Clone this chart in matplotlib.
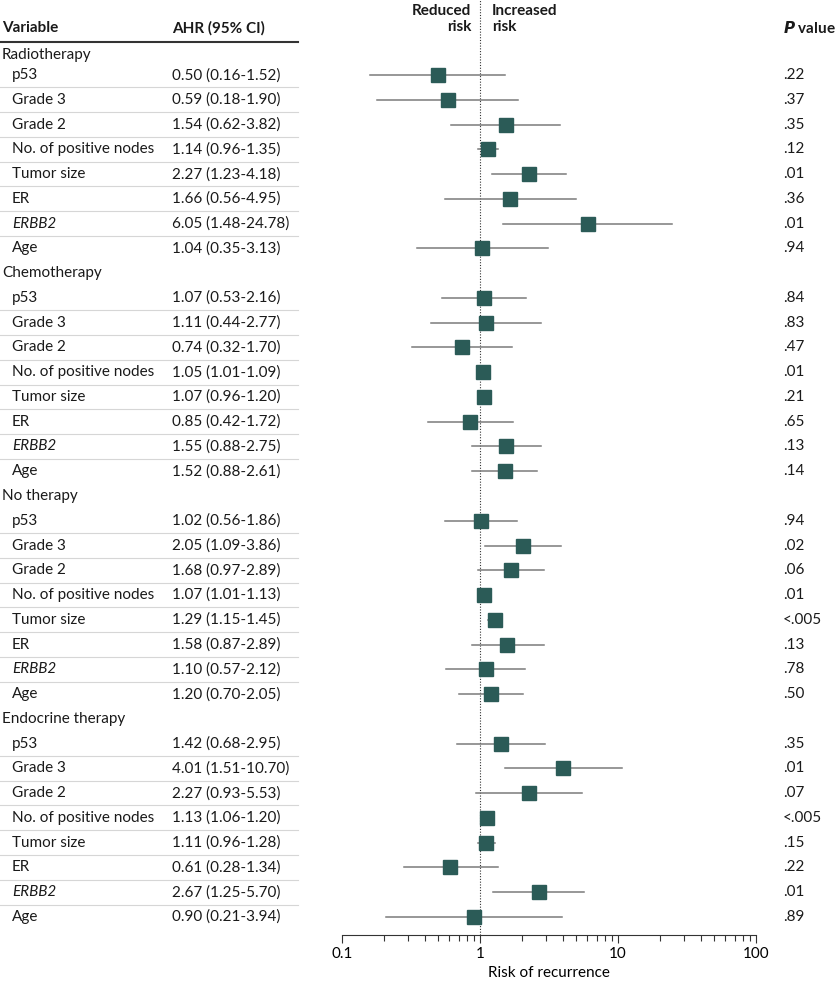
import matplotlib.pyplot as plt
import matplotlib.transforms as mtransforms
from matplotlib.lines import Line2D

plt.rcParams['font.family'] = ['Lato', 'DejaVu Sans']

# --- data ---
groups = ['Radiotherapy', 'Chemotherapy', 'No therapy', 'Endocrine therapy']
variables = ['p53', 'Grade 3', 'Grade 2', 'No. of positive nodes',
             'Tumor size', 'ER', 'ERBB2', 'Age']

ahr = [0.50, 0.59, 1.54, 1.14, 2.27, 1.66, 6.05, 1.04,
       1.07, 1.11, 0.74, 1.05, 1.07, 0.85, 1.55, 1.52,
       1.02, 2.05, 1.68, 1.07, 1.29, 1.58, 1.10, 1.20,
       1.42, 4.01, 2.27, 1.13, 1.11, 0.61, 2.67, 0.90]
ci_low = [0.16, 0.18, 0.62, 0.96, 1.23, 0.56, 1.48, 0.35,
          0.53, 0.44, 0.32, 1.01, 0.96, 0.42, 0.88, 0.88,
          0.56, 1.09, 0.97, 1.01, 1.15, 0.87, 0.57, 0.70,
          0.68, 1.51, 0.93, 1.06, 0.96, 0.28, 1.25, 0.21]
ci_high = [1.52, 1.90, 3.82, 1.35, 4.18, 4.95, 24.78, 3.13,
           2.16, 2.77, 1.70, 1.09, 1.20, 1.72, 2.75, 2.61,
           1.86, 3.86, 2.89, 1.13, 1.45, 2.89, 2.12, 2.05,
           2.95, 10.70, 5.53, 1.20, 1.28, 1.34, 5.70, 3.94]
p_values = ['.22', '.37', '.35', '.12', '.01', '.36', '.01', '.94',
            '.84', '.83', '.47', '.01', '.21', '.65', '.13', '.14',
            '.94', '.02', '.06', '.01', '<.005', '.13', '.78', '.50',
            '.35', '.01', '.07', '<.005', '.15', '.22', '.01', '.89']

W, H = 840, 984
fig = plt.figure(figsize=(W / 100, H / 100), dpi=100)

def fx(px):
    return px / W

def fy(py):
    return 1 - py / H

row_h = 24.76
y0_px = 50.3
ax_bottom_px = 935
ax = fig.add_axes([fx(342), fy(ax_bottom_px), fx(756) - fx(342), ax_bottom_px / H])
ax.set_xscale('log')
ax.set_xlim(0.1, 100)
ax.set_ylim((ax_bottom_px - y0_px) / row_h, -y0_px / row_h)

for s in ['top', 'right', 'left']:
    ax.spines[s].set_visible(False)
ax.spines['bottom'].set_color('#333333')
ax.spines['bottom'].set_linewidth(0.8)
ax.set_yticks([])
ax.set_xticks([0.1, 1, 10, 100])
ax.set_xticklabels(['0.1', '1', '10', '100'], fontsize=11)
ax.tick_params(axis='x', which='major', length=6, width=0.8, color='#333333', pad=3)
ax.tick_params(axis='x', which='minor', length=4, width=0.8, color='#333333')
ax.set_xlabel('Risk of recurrence', fontsize=11, labelpad=3)

ax.axvline(1, color='#333333', linestyle=(0, (1, 1.5)), linewidth=0.8, zorder=1)

# table text, y in data coords
tr = mtransforms.blended_transform_factory(fig.transFigure, ax.transData)
txt_kw = dict(fontsize=11, va='center', color='#1a1a1a')

ypos = 0
k = 0
for gi, g in enumerate(groups):
    # first group label sits a little lower under the header rule
    fig.text(fx(2), ypos + (0.2 if gi == 0 else 0), g, transform=tr, **txt_kw)
    ypos += 1
    for j, v in enumerate(variables):
        style = 'italic' if v == 'ERBB2' else 'normal'
        fig.text(fx(12), ypos, v, transform=tr, style=style, **txt_kw)
        fig.text(fx(172), ypos,
                 f'{ahr[k]:.2f} ({ci_low[k]:.2f}-{ci_high[k]:.2f})',
                 transform=tr, **txt_kw)
        fig.text(fx(783), ypos, p_values[k], transform=tr, **txt_kw)
        ax.plot([ci_low[k], ci_high[k]], [ypos, ypos], color='#7a7a7a',
                linewidth=1.1, zorder=2)
        ax.plot(ahr[k], ypos, marker='s', markersize=9.5, color='#2b5b57',
                markeredgecolor='#2b5b57', zorder=3)
        if j < len(variables) - 1:
            fig.add_artist(Line2D([0, fx(298)], [ypos + 0.5, ypos + 0.5],
                                  transform=tr, color='#d6d6d6', linewidth=0.8))
        ypos += 1
        k += 1

# header
hdr_kw = dict(fontsize=11, fontweight='bold', color='#1a1a1a', va='center')
fig.text(fx(2), fy(28), 'Variable', **hdr_kw)
fig.text(fx(172), fy(28), 'AHR (95% CI)', **hdr_kw)
fig.text(fx(783), fy(28), r'$\mathbfit{P}$ value', **hdr_kw)
fig.text(fx(471), fy(19), 'Reduced\nrisk', ha='right', linespacing=1.15, **hdr_kw)
fig.text(fx(492), fy(19), 'Increased\nrisk', ha='left', linespacing=1.15, **hdr_kw)
fig.add_artist(Line2D([0, fx(298)], [fy(42), fy(42)], color='#333333', linewidth=1.5))

fig.savefig('out.png', dpi=100)
